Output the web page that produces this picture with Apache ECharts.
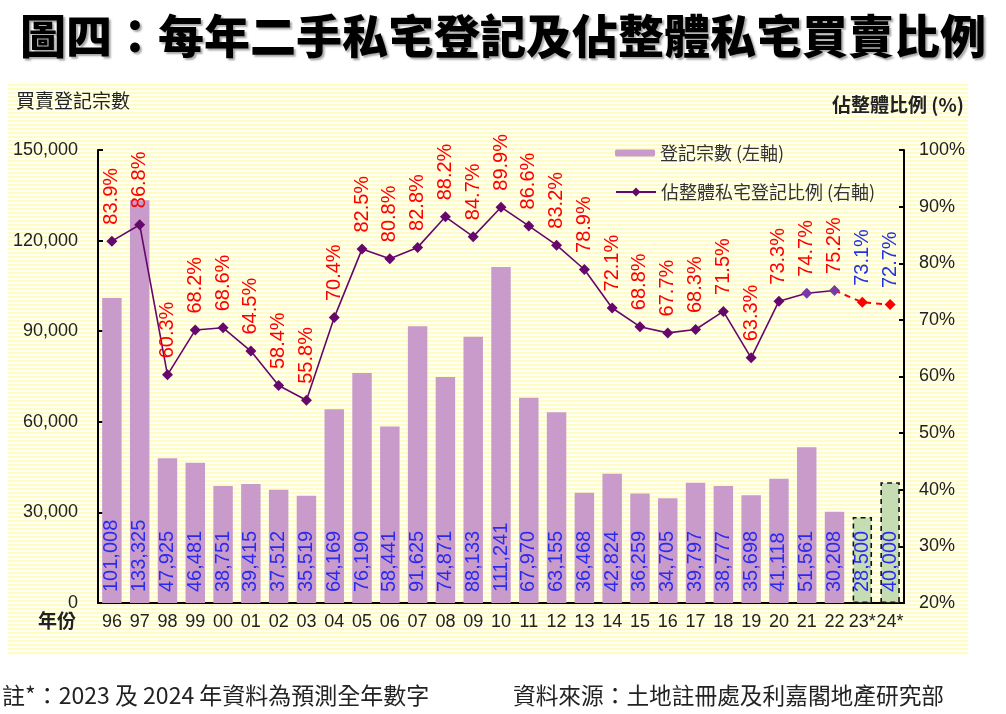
<!DOCTYPE html>
<html>
<head>
<meta charset="utf-8">
<script src="https://cdn.jsdelivr.net/npm/echarts@6/dist/echarts.min.js"></script>
<style>
html,body{margin:0;padding:0;background:#fff;}
#chart{width:1006px;height:714px;}
</style>
</head>
<body>
<div id="chart"></div>
<script>
// ---- data ----
const years = ['96','97','98','99','00','01','02','03','04','05','06','07','08','09','10','11','12','13','14','15','16','17','18','19','20','21','22','23*','24*'];
const registrations = [101008,133325,47925,46481,38751,39415,37512,35519,64169,76190,58441,91625,74871,88133,111241,67970,63155,36468,42824,36259,34705,39797,38777,35698,41118,51561,30208,28500,40000];
const shareActual = [83.9,86.8,60.3,68.2,68.6,64.5,58.4,55.8,70.4,82.5,80.8,82.8,88.2,84.7,89.9,86.6,83.2,78.9,72.1,68.8,67.7,68.3,71.5,63.3,73.3,74.7,75.2,null,null];
const shareForecast = [null,null,null,null,null,null,null,null,null,null,null,null,null,null,null,null,null,null,null,null,null,null,null,null,null,null,75.2,73.1,72.7];
const forecastIndex = [27, 28];
const leftTicks = [0, 30000, 60000, 90000, 120000, 150000];
const rightTicks = [20, 30, 40, 50, 60, 70, 80, 90, 100];

const CJK = "'Noto Sans CJK TC','Noto Sans CJK SC',sans-serif";
const NUM = "'Liberation Sans',Arial,sans-serif";

// stripe pattern for background
const pc = document.createElement('canvas');
pc.width = 4; pc.height = 4;
const pctx = pc.getContext('2d');
pctx.fillStyle = '#FFFFF4'; pctx.fillRect(0,0,4,4);
pctx.fillStyle = '#FFFCC6'; pctx.fillRect(0,0,4,2);

const barData = registrations.map((v, i) => {
  if (forecastIndex.indexOf(i) >= 0) {
    return {value: v, itemStyle: {color: '#C6DDB4', borderColor: '#111', borderWidth: 1.6, borderType: [5,4]}};
  }
  return v;
});
const lineData = shareActual.map((v, i) => {
  if (i === 25 || i === 26) return {value: v, itemStyle: {color: '#7A3AA6'}};
  return v;
});
const fcData = shareForecast.map((v, i) => {
  if (i === 26) return {value: v, symbol: 'none', label: {show: false}};
  return v;
});

const chart = echarts.init(document.getElementById('chart'));
chart.setOption({
  animation: false,
  title: {
    text: '圖四：每年二手私宅登記及佔整體私宅買賣比例',
    left: 'center', top: 8,
    textStyle: {fontFamily: CJK, fontSize: 46, fontWeight: 900, color: '#000',
      textShadowColor: 'rgba(0,0,0,0.35)', textShadowOffsetX: 2, textShadowOffsetY: 2, textShadowBlur: 2}
  },
  graphic: [
    {type: 'rect', z: -10, silent: true, shape: {x: 8, y: 82, width: 960, height: 573}, style: {fill: {image: pc, repeat: 'repeat'}}},
    {type: 'text', left: 16, top: 91, style: {text: '買賣登記宗數', font: "19px " + CJK, fill: '#222'}},
    {type: 'text', left: 832, top: 95, style: {text: '佔整體比例 (%)', font: "bold 19px " + CJK, fill: '#222'}},
    {type: 'text', left: 38, top: 611, style: {text: '年份', font: "bold 19px " + CJK, fill: '#222'}},
    {type: 'text', left: 2, top: 684, style: {text: '註*：2023 及 2024 年資料為預測全年數字', font: "23px " + CJK, fill: '#222'}},
    {type: 'text', left: 513, top: 684, style: {text: '資料來源：土地註冊處及利嘉閣地產研究部', font: "22.7px " + CJK, fill: '#222'}}
  ],
  legend: [
    {data: ['登記宗數 (左軸)'], left: 615, top: 144, padding: 0, itemWidth: 40, itemHeight: 7, itemGap: 6,
      textStyle: {fontFamily: CJK, fontSize: 18, color: '#333'}},
    {data: ['佔整體私宅登記比例 (右軸)'], left: 615, top: 183, padding: 0, itemWidth: 40, itemHeight: 11, itemGap: 6,
      textStyle: {fontFamily: CJK, fontSize: 18, color: '#333'}}
  ],
  grid: {left: 98, right: 102, top: 150, bottom: 111, containLabel: false},
  xAxis: {
    type: 'category', data: years,
    axisLine: {lineStyle: {color: '#000', width: 2}},
    axisTick: {show: false},
    axisLabel: {interval: 0, margin: 10, fontFamily: NUM, fontSize: 18, color: '#222'}
  },
  yAxis: [
    {type: 'value', min: leftTicks[0], max: leftTicks[leftTicks.length-1], interval: leftTicks[1]-leftTicks[0],
      axisLine: {show: true, lineStyle: {color: '#000', width: 2}},
      axisTick: {show: true, inside: true, length: 5, lineStyle: {color: '#000', width: 2}},
      splitLine: {show: false},
      axisLabel: {margin: 20, fontFamily: NUM, fontSize: 18, color: '#222',
        formatter: v => v.toLocaleString('en-US')}},
    {type: 'value', position: 'right', min: rightTicks[0], max: rightTicks[rightTicks.length-1], interval: rightTicks[1]-rightTicks[0],
      axisLine: {show: true, lineStyle: {color: '#000', width: 2}},
      axisTick: {show: true, inside: true, length: 5, lineStyle: {color: '#000', width: 2}},
      splitLine: {show: false},
      axisLabel: {margin: 15, fontFamily: NUM, fontSize: 18, color: '#222', formatter: '{value}%'}}
  ],
  series: [
    {
      name: '登記宗數 (左軸)', type: 'bar', yAxisIndex: 0, data: barData, barWidth: '70%',
      itemStyle: {color: '#C89BCB'},
      label: {show: true, position: 'insideBottom', rotate: 90, align: 'left', verticalAlign: 'middle', distance: 11,
        color: '#2B2BEE', fontFamily: NUM, fontSize: 20,
        formatter: p => Number(p.value).toLocaleString('en-US')}
    },
    {
      name: '佔整體私宅登記比例 (右軸)', type: 'line', yAxisIndex: 1, data: lineData, z: 5,
      symbol: 'diamond', symbolSize: 11,
      lineStyle: {color: '#66086B', width: 1.6}, itemStyle: {color: '#66086B'},
      label: {show: true, position: 'top', rotate: 90, align: 'left', verticalAlign: 'middle', distance: 11,
        color: '#FF0000', fontFamily: NUM, fontSize: 20, formatter: p => p.value.toFixed(1) + '%'}
    },
    {
      name: 'forecast', type: 'line', yAxisIndex: 1, data: fcData, z: 4,
      symbol: 'diamond', symbolSize: 11,
      lineStyle: {color: '#FF0000', width: 2, type: [6,5]}, itemStyle: {color: '#FF0000'},
      label: {show: true, position: 'top', rotate: 90, align: 'left', verticalAlign: 'middle', distance: 11,
        color: '#2233DD', fontFamily: NUM, fontSize: 20, formatter: p => p.value.toFixed(1) + '%'}
    }
  ]
});
</script>
</body>
</html>
